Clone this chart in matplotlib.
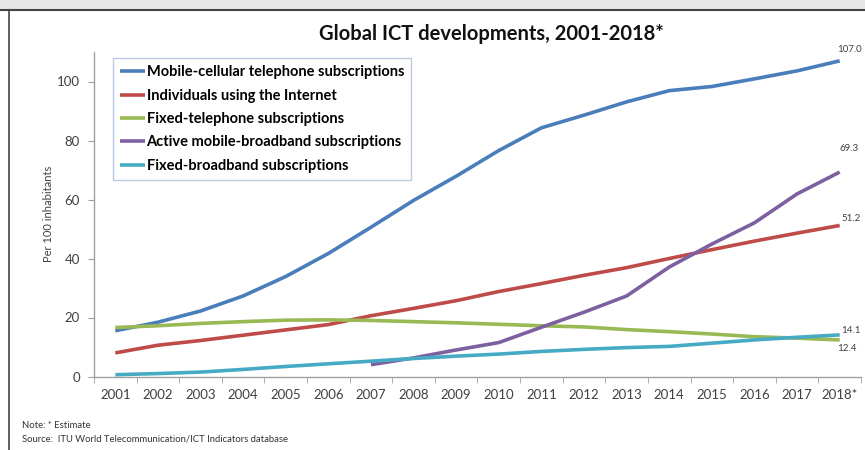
import matplotlib
matplotlib.use("Agg")
import matplotlib.pyplot as plt
import matplotlib.patches as mpatches
import matplotlib.lines as mlines

plt.rcParams["font.family"] = ["Lato", "DejaVu Sans"]

years = ["2001", "2002", "2003", "2004", "2005", "2006", "2007", "2008", "2009",
         "2010", "2011", "2012", "2013", "2014", "2015", "2016", "2017", "2018*"]

mobile_cellular = [15.5, 18.4, 22.2, 27.3, 33.9, 41.7, 50.6, 59.7, 67.9,
                   76.6, 84.3, 88.6, 93.1, 96.9, 98.3, 100.9, 103.6, 107.0]
internet_users = [8.0, 10.6, 12.2, 14.0, 15.8, 17.6, 20.6, 23.1, 25.7,
                  28.8, 31.5, 34.3, 36.9, 40.0, 43.0, 45.9, 48.6, 51.2]
fixed_telephone = [16.6, 17.2, 18.0, 18.6, 19.1, 19.2, 19.0, 18.6, 18.2,
                   17.7, 17.2, 16.8, 15.9, 15.2, 14.4, 13.5, 13.0, 12.4]
# active mobile-broadband starts in 2007
mobile_broadband_years = years[6:]
mobile_broadband = [4.0, 6.3, 9.0, 11.5, 16.7, 21.8, 27.3, 37.1, 44.9, 52.1, 61.9, 69.3]
fixed_broadband = [0.6, 1.0, 1.5, 2.4, 3.4, 4.3, 5.2, 6.1, 6.9,
                   7.6, 8.5, 9.2, 9.8, 10.2, 11.3, 12.4, 13.3, 14.1]

end_labels = ["107.0", "69.3", "51.2", "14.1", "12.4"]

series = [
    ("Mobile-cellular telephone subscriptions", years, mobile_cellular, "#4a7ebb"),
    ("Individuals using the Internet", years, internet_users, "#be4b48"),
    ("Fixed-telephone subscriptions", years, fixed_telephone, "#98b954"),
    ("Active mobile-broadband subscriptions", mobile_broadband_years, mobile_broadband, "#7d60a0"),
    ("Fixed-broadband subscriptions", years, fixed_broadband, "#46aac5"),
]

fig = plt.figure(figsize=(8.65, 4.5), dpi=100)

# slide background strip + frame
fig.patches.append(mpatches.Rectangle((0, 1 - 9 / 450), 1, 9 / 450, transform=fig.transFigure,
                                      facecolor="#e6e6e6", edgecolor="none", zorder=0))
fig.lines.append(mlines.Line2D([0, 1], [1 - 9.5 / 450, 1 - 9.5 / 450], transform=fig.transFigure,
                               color="#444444", lw=1.5))
fig.lines.append(mlines.Line2D([8.5 / 865, 8.5 / 865], [0, 1 - 9.5 / 450], transform=fig.transFigure,
                               color="#444444", lw=1.2))

ax = fig.add_axes([94 / 865, 1 - 376.5 / 450, (861 - 94) / 865, (376.5 - 52) / 450])

x_index = {y: i for i, y in enumerate(years)}
for name, xs, ys, color in series:
    ax.plot([x_index[v] for v in xs], ys, color=color, lw=2.6, label=name,
            solid_capstyle="butt")

ax.set_xlim(-0.5, len(years) - 0.5)
ax.set_ylim(0, 110)
ax.set_yticks([0, 20, 40, 60, 80, 100])
ax.set_xticks(range(len(years)))
ax.set_xticklabels(years)
ax.set_xticks([i - 0.5 for i in range(len(years) + 1)], minor=True)
ax.tick_params(axis="x", which="major", length=0, pad=9, labelsize=9.5, colors="#404040")
ax.tick_params(axis="x", which="minor", length=4, direction="out", color="#a0a0a0")
ax.tick_params(axis="y", length=4, direction="out", color="#a0a0a0", labelsize=9.5,
               labelcolor="#404040", pad=6)
for s in ["top", "right"]:
    ax.spines[s].set_visible(False)
for s in ["left", "bottom"]:
    ax.spines[s].set_color("#a0a0a0")
    ax.spines[s].set_linewidth(1)

ax.set_ylabel("Per 100 inhabitants", fontsize=8, color="#404040", labelpad=2)

# value labels at the 2018 end points (offsets in points)
last = len(years) - 1
label_pos = {
    "107.0": (mobile_cellular[-1], -2, 8),
    "69.3": (mobile_broadband[-1], 0, 17),
    "51.2": (internet_users[-1], 1, 5),
    "14.1": (fixed_broadband[-1], 1, 3.5),
    "12.4": (fixed_telephone[-1], -2, -6),
}
for txt in end_labels:
    yv, dx, dy = label_pos[txt]
    ax.annotate(txt, (last, yv), xytext=(dx, dy), textcoords="offset points",
                ha="left", va="center", fontsize=7, color="#404040")

leg = ax.legend(loc="upper left", bbox_to_anchor=(113 / 865, 1 - 58 / 450),
                bbox_transform=fig.transFigure, frameon=True, fancybox=False,
                borderaxespad=0, handlelength=1.7, handletextpad=0.1, labelspacing=0.64,
                borderpad=0.5, prop={"weight": "bold", "size": 10.5})
leg.get_frame().set_edgecolor("#a8bfdc")
leg.get_frame().set_linewidth(1)

fig.text(491 / 865, 1 - 34 / 450, "Global ICT developments, 2001-2018*", ha="center",
         va="center", fontsize=14.5, fontweight="bold", color="#111111")

fig.text(22 / 865, 1 - 426 / 450, "Note: * Estimate", fontsize=6.8, va="center", color="#333333")
fig.text(22 / 865, 1 - 439 / 450, "Source:  ITU World Telecommunication/ICT Indicators database",
         fontsize=6.8, va="center", color="#333333")

fig.savefig("out.png", dpi=100)
